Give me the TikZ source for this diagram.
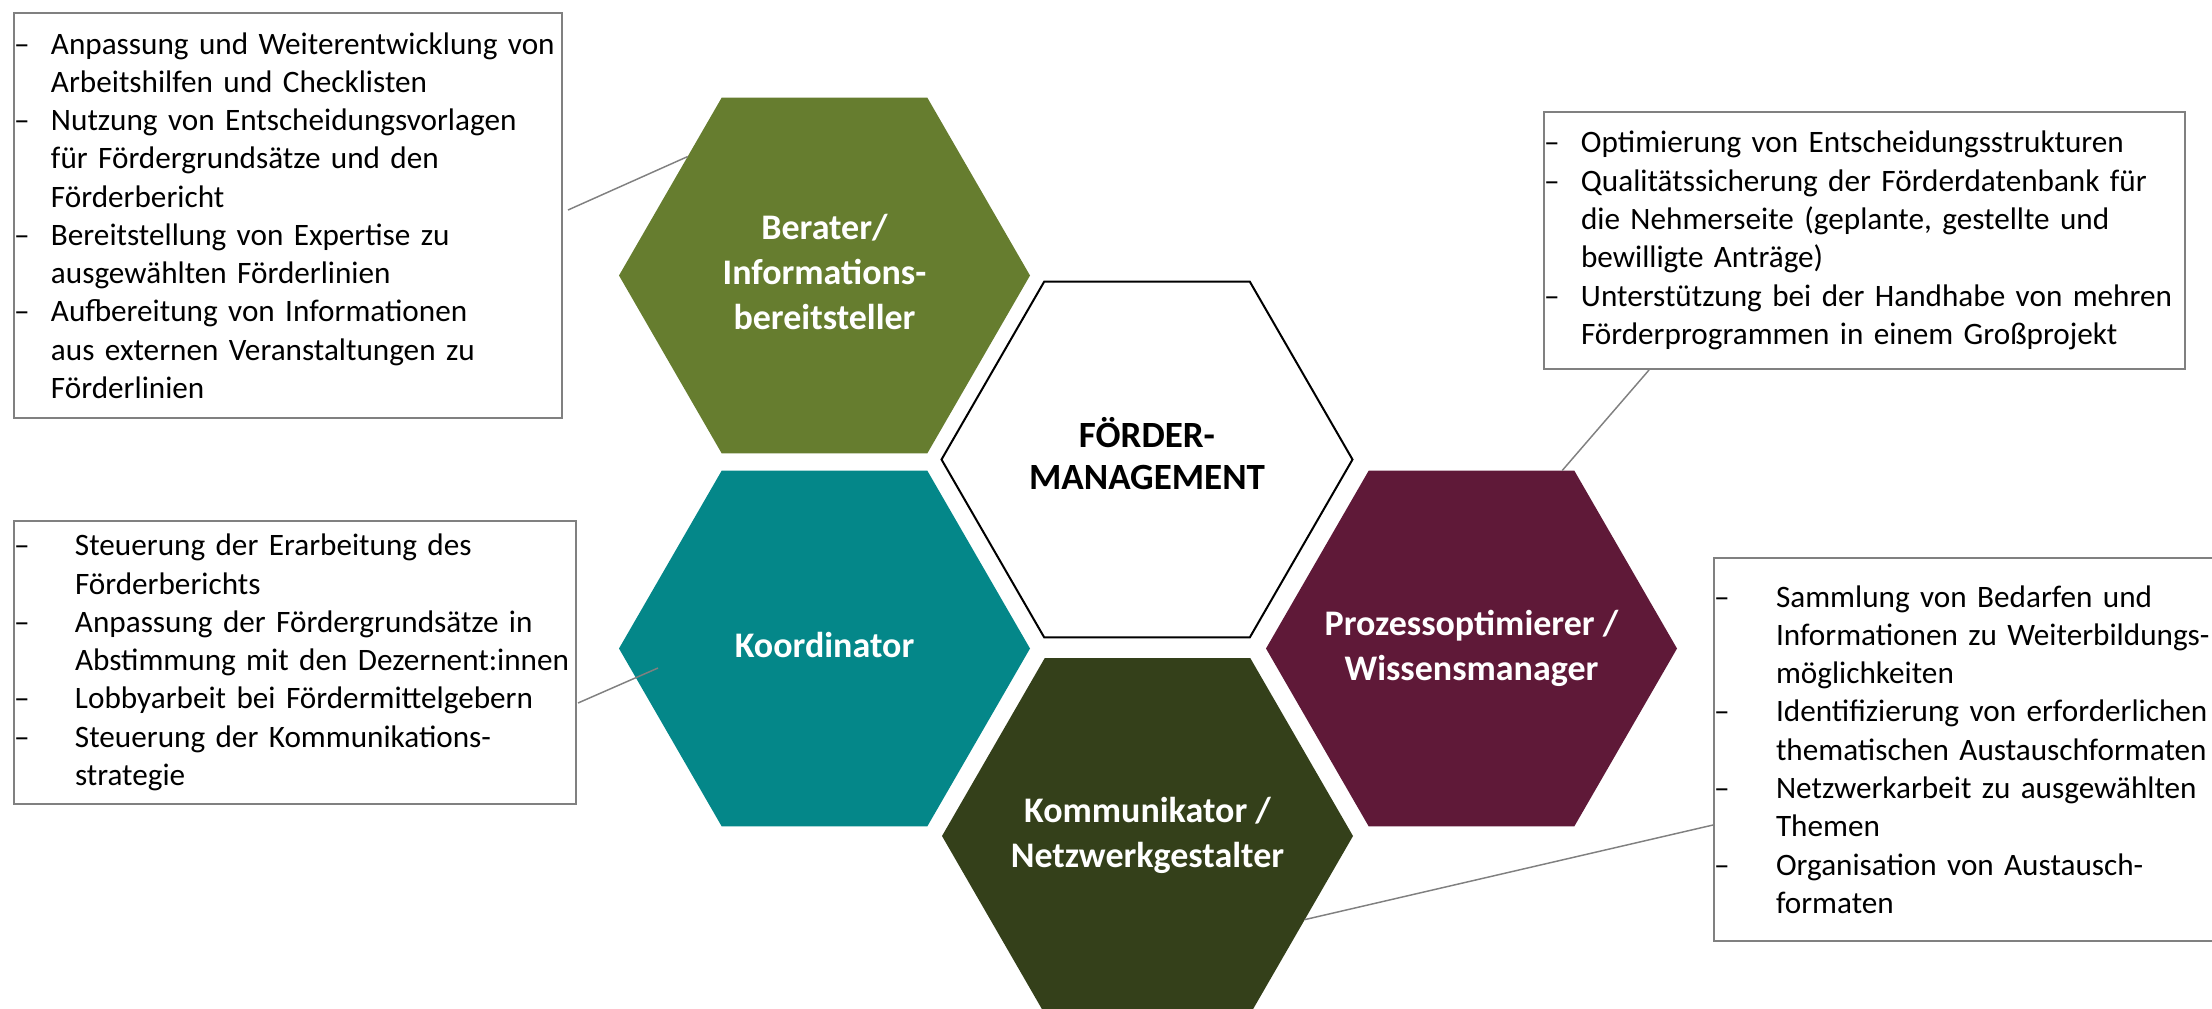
\documentclass[tikz,border=0pt]{standalone}
\usepackage{fontspec}
\setmainfont{Carlito}
\usetikzlibrary{shapes.geometric}

\definecolor{olivegr}{RGB}{102,125,47}
\definecolor{tealgr}{RGB}{4,135,137}
\definecolor{wine}{RGB}{95,25,56}
\definecolor{darkolive}{RGB}{52,64,26}
\definecolor{boxgray}{RGB}{128,128,128}

\newlength{\dashw}
\newcommand{\itm}[1]{\makebox[\dashw][l]{\textendash}\mbox{#1}}
\newcommand{\cnt}[1]{\hspace*{\dashw}\mbox{#1}}
% label of zero width, so the hexagon keeps its size
\newcommand{\hexlabel}[1]{\makebox[0pt]{\begin{tabular}{@{}c@{}}#1\end{tabular}}}

\begin{document}
\begin{tikzpicture}[x=0.75pt,y=0.75pt,yscale=-1,xscale=1,
  hexa/.style={regular polygon,regular polygon sides=6,minimum size=308.25pt,inner sep=0pt,outer sep=0pt,font=\fontsize{27}{33.75}\selectfont\bfseries},
  infobox/.style={draw=boxgray,line width=1.5pt,anchor=north west,inner xsep=0pt,inner ysep=0pt,align=left,font=\fontsize{23.4}{28.7}\selectfont,execute at begin node={\setlength{\dashw}{#1}}},
  link/.style={draw=boxgray,line width=1.1pt}]
\useasboundingbox (0,0) rectangle (2212,1008);

%Hexagons
\node[hexa,fill=olivegr,text=white] (ber) at (824.5,275.5) {\hexlabel{Berater/\\Informations-\\bereitsteller}};
\node[hexa,draw=black,line width=1.5pt,fill=white,font=\fontsize{27.75}{31.5}\selectfont\bfseries] (foe) at (1147,459.5) {\hexlabel{FÖRDER-\\MANAGEMENT}};
\node[hexa,fill=tealgr,text=white] (koord) at (824.5,648.5) {\hexlabel{Koordinator}};
\node[hexa,fill=wine,text=white] (proz) at (1471.5,648.5) {\hexlabel{Prozessoptimierer /\\Wissensmanager}};
\node[hexa,fill=darkolive,text=white] (komm) at (1147.5,836) {\hexlabel{Kommunikator /\\Netzwerkgestalter}};

%Text boxes
\node[infobox=27.75pt,text width=411pt,minimum height=303.75pt] (info1) at (13,12) {%
\itm{Anpassung und Weiterentwicklung von}\\
\cnt{Arbeitshilfen und Checklisten}\\
\itm{Nutzung von Entscheidungsvorlagen}\\
\cnt{für Fördergrundsätze und den}\\
\cnt{Förderbericht}\\
\itm{Bereitstellung von Expertise zu}\\
\cnt{ausgewählten Förderlinien}\\
\itm{Aufbereitung von Informationen}\\
\cnt{aus externen Veranstaltungen zu}\\
\cnt{Förderlinien}};
\node[infobox=27.75pt,text width=480.75pt,minimum height=192.75pt] (info2) at (1543,111) {%
\itm{Optimierung von Entscheidungsstrukturen}\\
\itm{Qualitätssicherung der Förderdatenbank für}\\
\cnt{die Nehmerseite (geplante, gestellte und}\\
\cnt{bewilligte Anträge)}\\
\itm{Unterstützung bei der Handhabe von mehren}\\
\cnt{Förderprogrammen in einem Großprojekt}};
\node[infobox=45.75pt,text width=421.5pt,minimum height=212.25pt] (info3) at (13,520) {%
\itm{Steuerung der Erarbeitung des}\\
\cnt{Förderberichts}\\
\itm{Anpassung der Fördergrundsätze in}\\
\cnt{Abstimmung mit den Dezernent:innen}\\
\itm{Lobbyarbeit bei Fördermittelgebern}\\
\itm{Steuerung der Kommunikations-}\\
\cnt{strategie}};
\node[infobox=46.5pt,text width=395.25pt,minimum height=287.25pt] (info4) at (1713,557) {%
\itm{Sammlung von Bedarfen und}\\
\cnt{Informationen zu Weiterbildungs-}\\
\cnt{möglichkeiten}\\
\itm{Identifizierung von erforderlichen}\\
\cnt{thematischen Austauschformaten}\\
\itm{Netzwerkarbeit zu ausgewählten}\\
\cnt{Themen}\\
\itm{Organisation von Austausch-}\\
\cnt{formaten}};

%Connectors
\coordinate (c1) at (568,210);
\coordinate (c2) at (1649,370);
\coordinate (c3) at (578,703);
\coordinate (c4) at (1713,825);
\draw[link] (c1) -- (ber.139);
\draw[link] (c2) -- (proz.63);
\draw[link] (c3) -- ([shift={(39,19.5)}]koord.west);
\draw[link] (komm.332) -- (c4);

\end{tikzpicture}
\end{document}
